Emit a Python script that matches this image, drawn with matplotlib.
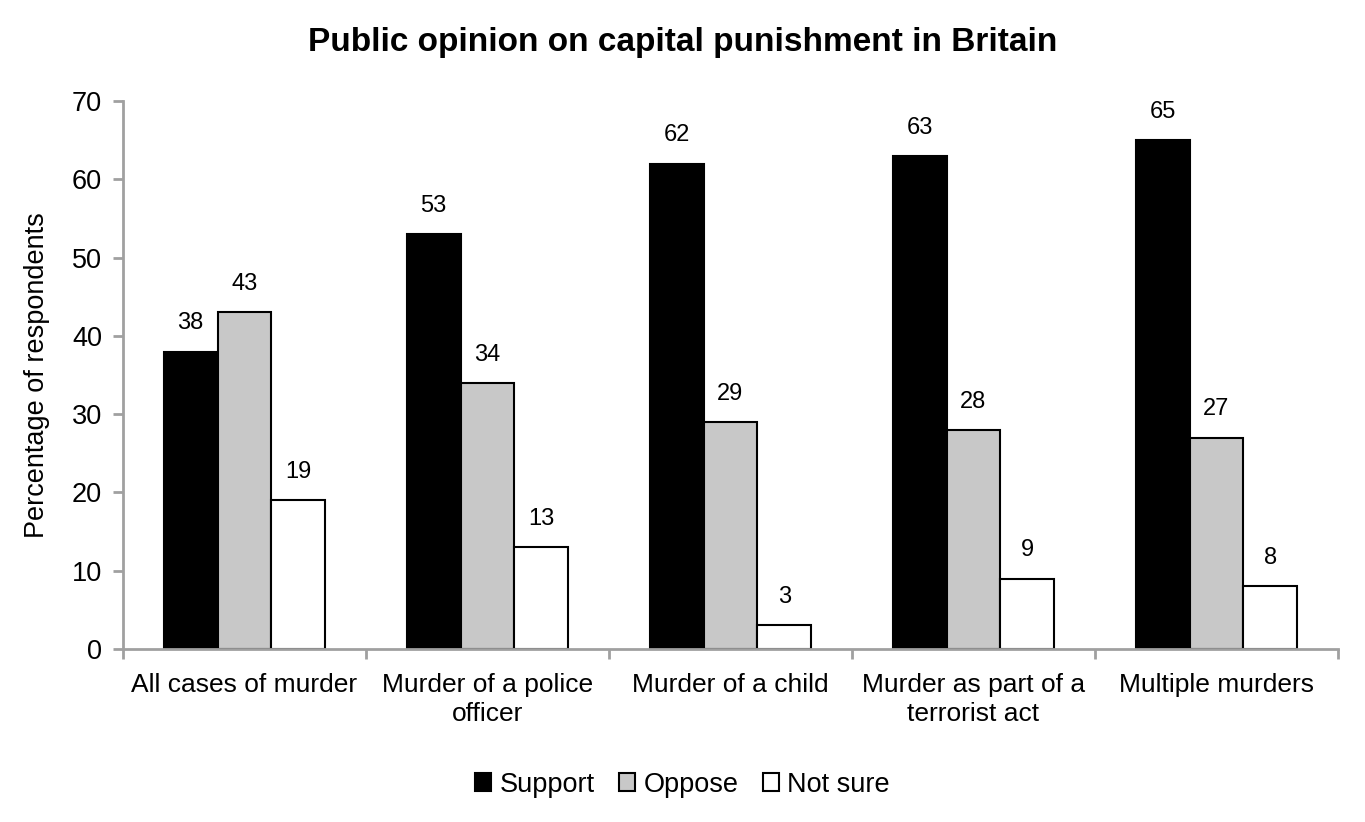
import matplotlib.pyplot as plt
import numpy as np

plt.rcParams['font.family'] = ['Liberation Sans', 'DejaVu Sans']

# data
categories = ["All cases of murder", "Murder of a police\nofficer", "Murder of a child",
              "Murder as part of a\nterrorist act", "Multiple murders"]
support = [38, 53, 62, 63, 65]
oppose = [43, 34, 29, 28, 27]
not_sure = [19, 13, 3, 9, 8]
series_names = ["Support", "Oppose", "Not sure"]
series_colors = ["black", "#c8c8c8", "white"]

fig = plt.figure(figsize=(13.65, 8.22), dpi=100)
ax = fig.add_axes([0.0901, 0.2105, 0.8901, 0.6666])

x = np.arange(len(categories))
w = 0.222
for i, (vals, name, col) in enumerate(zip([support, oppose, not_sure], series_names, series_colors)):
    bars = ax.bar(x + (i - 1) * w, vals, w, color=col, edgecolor='black', linewidth=1.5, label=name)
    for b, v in zip(bars, vals):
        ax.text(b.get_x() + b.get_width() / 2, v + 2.2, str(v), ha='center', va='bottom', fontsize=17)

ax.set_xlim(-0.5, len(categories) - 0.5)
ax.set_ylim(0, 70)
ax.set_yticks(range(0, 71, 10))
ax.tick_params(axis='y', labelsize=19.5, length=7, direction='out', width=2, pad=8)

# category labels between boundary ticks
ax.set_xticks(np.arange(-0.5, len(categories)), minor=False)
ax.set_xticklabels([])
ax.tick_params(axis='x', length=7, direction='out', width=2)
ax.set_xticks(x, minor=True)
ax.set_xticklabels(categories, minor=True, fontsize=19, linespacing=1.3)
ax.tick_params(axis='x', which='minor', length=0, pad=17)

for s in ['top', 'right']:
    ax.spines[s].set_visible(False)
for s in ['left', 'bottom']:
    ax.spines[s].set_color('#a0a0a0')
    ax.spines[s].set_linewidth(2)
ax.tick_params(colors='#a0a0a0', labelcolor='black', which='both')

ax.set_ylabel("Percentage of respondents", fontsize=19.5, labelpad=16)
fig.suptitle("Public opinion on capital punishment in Britain", fontsize=24, fontweight='bold', y=0.967)

fig.legend(loc='lower center', bbox_to_anchor=(0.5, 0.0), ncol=3, frameon=False, fontsize=19.5,
           handlelength=0.6, handleheight=0.6, handletextpad=0.3, columnspacing=0.9)

fig.savefig("out.png", dpi=100)
